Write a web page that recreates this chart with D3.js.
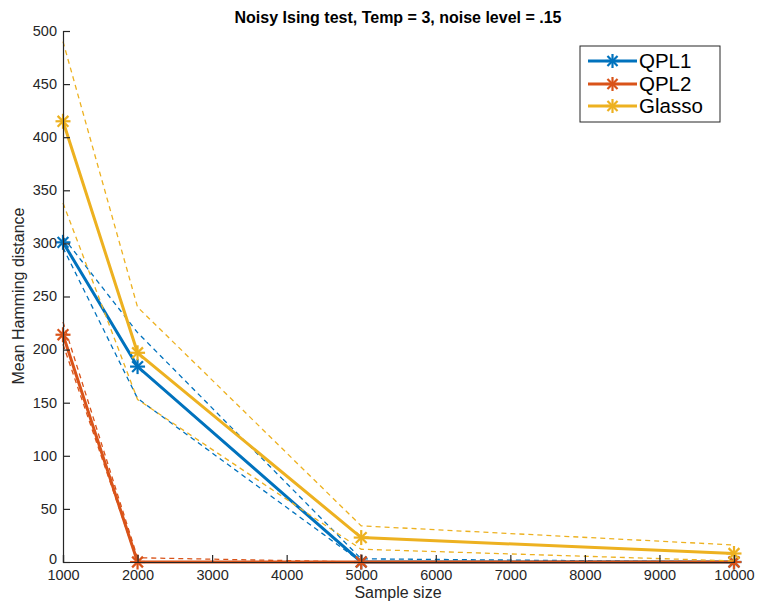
<!DOCTYPE html>
<html><head><meta charset="utf-8">
<script src="https://cdn.jsdelivr.net/npm/d3@7"></script>
<style>body{margin:0;background:#fff;}svg{display:block;font-family:"Liberation Sans",Arial,Helvetica,sans-serif;}</style>
</head><body>
<svg id="c" width="758" height="604"></svg>
<script>
const sampleSizes = [1000, 2000, 5000, 10000];
const qpl1Mean  = [301, 184, 0, 0];
const qpl1Upper = [306, 216, 3, 0];
const qpl1Lower = [296, 154, 0, 0];
const qpl2Mean  = [214, 0, 0, 0];
const qpl2Upper = [226, 4, 0, 0];
const qpl2Lower = [205, 0, 0, 0];
const glassoMean  = [415, 197, 23, 8];
const glassoUpper = [490, 240, 34, 16];
const glassoLower = [338, 153, 12, 1];
const xTicks = [1000,2000,3000,4000,5000,6000,7000,8000,9000,10000];
const yTicks = [0,50,100,150,200,250,300,350,400,450,500];
const seriesNames = ["QPL1","QPL2","Glasso"];
const colors = ["#0072BD","#D95319","#EDB120"];

const svg = d3.select("#c");
const L=63, R=734, T=31, B=562;
const x = d3.scaleLinear().domain([1000,10000]).range([L,R]);
const y = d3.scaleLinear().domain([0,500]).range([B,T]);

const series = [
  {name:seriesNames[0], color:colors[0], mean:qpl1Mean, up:qpl1Upper, lo:qpl1Lower},
  {name:seriesNames[1], color:colors[1], mean:qpl2Mean, up:qpl2Upper, lo:qpl2Lower},
  {name:seriesNames[2], color:colors[2], mean:glassoMean, up:glassoUpper, lo:glassoLower}
];
const line = d3.line().x((d,i)=>x(sampleSizes[i])).y(d=>y(d));

function star(g, cx, cy, r, color){
  const s = g.append("g").attr("transform",`translate(${cx},${cy})`).attr("stroke",color).attr("stroke-width",2.2);
  const d = r*0.72;
  s.append("line").attr("x1",-r).attr("x2",r).attr("y1",0).attr("y2",0);
  s.append("line").attr("x1",0).attr("x2",0).attr("y1",-r).attr("y2",r);
  s.append("line").attr("x1",-d).attr("x2",d).attr("y1",-d).attr("y2",d);
  s.append("line").attr("x1",-d).attr("x2",d).attr("y1",d).attr("y2",-d);
}

const plot = svg.append("g");
series.forEach(s=>{
  plot.append("path").attr("d",line(s.mean)).attr("fill","none").attr("stroke",s.color).attr("stroke-width",3);
  s.mean.forEach((v,i)=>star(plot, x(sampleSizes[i]), y(v), 7.5, s.color));
  [s.up, s.lo].forEach(arr=>{
    plot.append("path").attr("d",line(arr)).attr("fill","none").attr("stroke",s.color)
      .attr("stroke-width",1.3).attr("stroke-dasharray","5,4");
  });
});

// axes
const axc = "#262626";
const xa = svg.append("g").attr("transform",`translate(0,${B})`)
  .call(d3.axisBottom(x).tickValues(xTicks).tickSize(-7).tickPadding(8).tickFormat(d3.format("d")));
const ya = svg.append("g").attr("transform",`translate(${L},0)`)
  .call(d3.axisLeft(y).tickValues(yTicks).tickSize(-7).tickPadding(6).tickFormat(d3.format("d")));
[xa,ya].forEach(a=>{
  a.select(".domain").attr("stroke",axc).attr("stroke-width",1.2);
  a.selectAll(".tick line").attr("stroke",axc).attr("stroke-width",1.2);
  a.selectAll(".tick text").attr("fill",axc).attr("font-size",14.5).attr("font-family","Liberation Sans, Arial, sans-serif");
});
ya.selectAll(".tick text").attr("dy",d=>d===0?"0.12em":"0.3em");

svg.append("text").attr("x",398).attr("y",23).attr("text-anchor","middle")
  .attr("font-size",16).attr("font-weight","bold").attr("fill","#000")
  .text("Noisy Ising test, Temp = 3, noise level = .15");
svg.append("text").attr("x",398).attr("y",598).attr("text-anchor","middle")
  .attr("font-size",16).attr("fill",axc).text("Sample size");
svg.append("text").attr("transform","translate(24,296) rotate(-90)").attr("text-anchor","middle")
  .attr("font-size",16).attr("fill",axc).text("Mean Hamming distance");

// legend
const lg = svg.append("g");
lg.append("rect").attr("x",580).attr("y",46).attr("width",140).attr("height",76)
  .attr("fill","#fff").attr("stroke","#262626").attr("stroke-width",1);
const ly = [61,84,106];
series.forEach((s,i)=>{
  lg.append("line").attr("x1",588).attr("x2",637).attr("y1",ly[i]).attr("y2",ly[i])
    .attr("stroke",s.color).attr("stroke-width",3);
  star(lg, 612.5, ly[i], 7, s.color);
  lg.append("text").attr("x",639).attr("y",ly[i]).attr("dy","0.36em").attr("font-size",20.5)
    .attr("fill","#000").text(s.name);
});
</script>
</body></html>
